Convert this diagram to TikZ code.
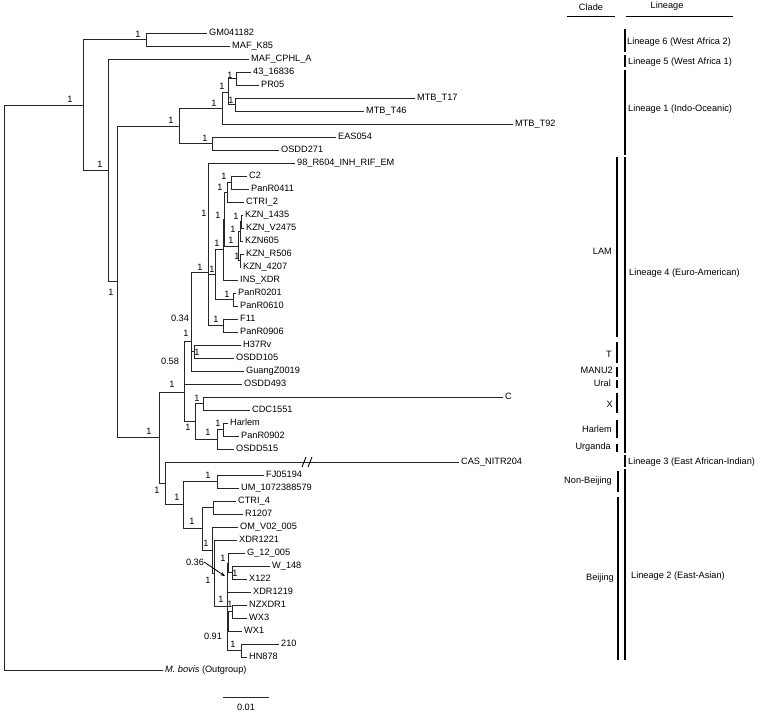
\documentclass[tikz,border=0pt]{standalone}
\usepackage{fontspec}
\setmainfont{Liberation Sans}
\usetikzlibrary{arrows.meta}
\newcommand\treefont{\fontsize{9.2}{11}\selectfont}
\begin{document}
\begin{tikzpicture}[x=1pt,y=-1pt,
 br/.style={line width=0.8pt, draw=black!85},
 leaf/.style={anchor=mid west, inner xsep=2pt, inner ysep=0pt, font=\treefont},
 bsup/.style={inner sep=0pt, font=\treefont},
 bar/.style={line width=1.4pt},
 lin/.style={anchor=mid west, inner sep=0pt, font=\treefont},
 cla/.style={anchor=mid east, inner sep=0pt, font=\treefont}]
\useasboundingbox (0,0) rectangle (760,712);

% ---------- internal nodes ----------
\coordinate (R) at (4,105.25);
\coordinate (A) at (83,105.25);
\coordinate (G) at (146,39.5);
\coordinate (B) at (108,170.5);
\coordinate (C) at (117,281.75);
\coordinate (L1) at (179,126);
\coordinate (M1) at (222,108);
\coordinate (M2) at (228,92);
\coordinate (P43) at (236,78.5);
\coordinate (T17n) at (235,104.5);
\coordinate (EA) at (212,143.5);
\coordinate (D) at (159,437.5);
\coordinate (D4) at (184,392);
\coordinate (Q) at (184,362.7);
\coordinate (P1) at (191,341.4);
\coordinate (P034) at (191,311.75);
\coordinate (Tn) at (194,351.5);
\coordinate (LAM2) at (208,272);
\coordinate (LAM1) at (208,219);
\coordinate (LAMc) at (215,274.75);
\coordinate (LAMa) at (223,249.5);
\coordinate (LAMb) at (224,219);
\coordinate (CT) at (227,192);
\coordinate (C2n) at (231,182.5);
\coordinate (KZ) at (238,246);
\coordinate (K3) at (240,231);
\coordinate (K1) at (241,221.5);
\coordinate (K2) at (240,260.5);
\coordinate (PR02) at (233,299.5);
\coordinate (F11n) at (223,325.5);
\coordinate (XH) at (195,421);
\coordinate (Xc) at (203,403.5);
\coordinate (Hc) at (217,439.25);
\coordinate (HP) at (223,429.5);
\coordinate (E) at (165,483);
\coordinate (L2) at (183,504.5);
\coordinate (NB) at (217,481.5);
\coordinate (Bj) at (202,528.75);
\coordinate (CR) at (213,507.5);
\coordinate (B2) at (212,550.25);
\coordinate (B3) at (214,573.5);
\coordinate (B4) at (227,606.5);
\coordinate (N036) at (227,577.5);
\coordinate (B5) at (228,563);
\coordinate (WX) at (232,572.5);
\coordinate (N2) at (227,635.6);
\coordinate (N091) at (228,621.25);
\coordinate (NW) at (232,611.5);
\coordinate (H210) at (241,650.5);

% ---------- leaves ----------
\node[leaf] (gm) at (207,33) {GM041182};
\node[leaf] (mafk) at (230,46) {MAF\_K85};
\node[leaf] (mafc) at (249,59) {MAF\_CPHL\_A};
\node[leaf] (l43) at (251,72) {43\_16836};
\node[leaf] (pr05) at (259,85) {PR05};
\node[leaf] (t17) at (415,98) {MTB\_T17};
\node[leaf] (t46) at (364,111) {MTB\_T46};
\node[leaf] (t92) at (513,124) {MTB\_T92};
\node[leaf] (eas) at (336,137) {EAS054};
\node[leaf] (o271) at (279,150) {OSDD271};
\node[leaf] (r604) at (295,163) {98\_R604\_INH\_RIF\_EM};
\node[leaf] (c2) at (247,176) {C2};
\node[leaf] (p0411) at (249,189) {PanR0411};
\node[leaf] (ctri2) at (244,202) {CTRI\_2};
\node[leaf] (k1435) at (243,215) {KZN\_1435};
\node[leaf] (kv) at (244,228) {KZN\_V2475};
\node[leaf] (k605) at (243,241) {KZN605};
\node[leaf] (kr) at (244,254) {KZN\_R506};
\node[leaf] (k4207) at (241,267) {KZN\_4207};
\node[leaf] (ins) at (238,280) {INS\_XDR};
\node[leaf] (p0201) at (236,293) {PanR0201};
\node[leaf] (p0610) at (238,306) {PanR0610};
\node[leaf] (f11) at (238,319) {F11};
\node[leaf] (p0906) at (238,332) {PanR0906};
\node[leaf] (h37) at (241,345) {H37Rv};
\node[leaf] (o105) at (234,358) {OSDD105};
\node[leaf] (guang) at (244,371) {GuangZ0019};
\node[leaf] (o493) at (242,384) {OSDD493};
\node[leaf] (cc) at (503,397) {C};
\node[leaf] (cdc) at (250,410) {CDC1551};
\node[leaf] (harlem) at (228,423) {Harlem};
\node[leaf] (p0902) at (239,436) {PanR0902};
\node[leaf] (o515) at (234,449) {OSDD515};
\node[leaf] (cas) at (459,462) {CAS\_NITR204};
\node[leaf] (fj) at (264,475) {FJ05194};
\node[leaf] (um) at (239,488) {UM\_1072388579};
\node[leaf] (ctri4) at (236,501) {CTRI\_4};
\node[leaf] (r1207) at (243,514) {R1207};
\node[leaf] (om) at (238,527) {OM\_V02\_005};
\node[leaf] (x1221) at (237,540) {XDR1221};
\node[leaf] (g12) at (245,553) {G\_12\_005};
\node[leaf] (w148) at (270,566) {W\_148};
\node[leaf] (x122) at (247,579) {X122};
\node[leaf] (x1219) at (251,592) {XDR1219};
\node[leaf] (nz) at (247,605) {NZXDR1};
\node[leaf] (wx3) at (247,618) {WX3};
\node[leaf] (wx1) at (242,631) {WX1};
\node[leaf] (s210) at (279,644) {210};
\node[leaf] (hn) at (247,657) {HN878};
\node[leaf] (mb) at (163,670) {\textit{M. bovis} (Outgroup)};

% ---------- branches ----------
\foreach \p/\c in {R/A, A/G, A/B, B/C, C/L1, C/D, L1/M1, L1/EA, M1/M2, M2/P43, M2/T17n,
  D/D4, D/E, D4/Q, D4/XH, Q/P1, P1/P034, P034/LAM2, P034/Tn, LAM2/LAM1, LAM2/F11n,
  LAM1/LAMc, LAMc/LAMa, LAMc/PR02, LAMa/LAMb, LAMb/CT, LAMb/KZ, CT/C2n, KZ/K3, KZ/K2, K3/K1,
  XH/Xc, XH/Hc, Hc/HP, E/L2, L2/NB, L2/Bj, Bj/CR, Bj/B2, B2/B3, B3/B4, B4/N036, B4/N2,
  N036/B5, B5/WX, N2/N091, N2/H210, N091/NW}
  \draw[br] (\p) |- (\c);
\foreach \p/\c in {R/mb, G/gm, G/mafk, B/mafc, M1/t92, P43/l43, P43/pr05, T17n/t17, T17n/t46,
  EA/eas, EA/o271, Q/o493, P1/guang, Tn/h37, Tn/o105, LAM1/r604, LAMa/ins, CT/ctri2,
  C2n/c2, C2n/p0411, K3/k605, K1/k1435, K1/kv, K2/kr, K2/k4207, PR02/p0201, PR02/p0610,
  F11n/f11, F11n/p0906, Xc/cc, Xc/cdc, Hc/o515, HP/harlem, HP/p0902, E/cas, NB/fj, NB/um,
  CR/ctri4, CR/r1207, B2/om, B3/x1221, N036/x1219, B5/g12, WX/w148, WX/x122, N091/wx1,
  NW/nz, NW/wx3, H210/s210, H210/hn}
  \draw[br] (\p) |- (\c.mid west);

% break mark on CAS_NITR204
\draw[line width=0.9pt] (302,467) -- (306,457) (308,467) -- (312,457);

% ---------- support values ----------
\foreach \t/\x/\y [count=\i] in {1/138/34, 1/70/99, 1/100/164, 1/111/292, 1/171/120, 1/214/103,
  1/205/138, 1/230/75, 1/222/86, 1/231/100, 1/149/431, 1/204/213, 1/224/176, 1/220/187,
  1/218/215, 1/236/216, 1/233/229, 1/231/240, 1/237/256, 1/217/243, 1/200/267, 1/212/269,
  1/227/294, 1/216/319, 0.34/180/318, 1/186/333, 1/197/352, 0.58/170/361, 1/172/384,
  1/197/398, 1/188/427, 1/218/423, 1/208/432, 1/157/490, 1/208/475, 1/177/497, 1/192/521,
  1/206/543, 1/208/580, 1/223/558, 1/235/573, 1/221/599, 1/230/604, 0.91/213/636, 1/233/644}
  \node[bsup] (sup\i) at (\x,\y) {\t};
\node[bsup] (s036) at (195,562) {0.36};
\draw[line width=0.8pt, -{Stealth[length=4.5pt,width=3.5pt]}, shorten >=2.5pt] (s036.east) -- (N036);

% ---------- scale bar ----------
\coordinate (sba) at (223,697);
\coordinate (sbb) at (269,697);
\draw[br] (sba) -- (sbb);
\node[bsup] (sbl) at (246,707) {0.01};

% ---------- right panel ----------
\node[bsup] (hclade) at (591,7) {Clade};
\node[bsup] (hlin) at (667,6) {Lineage};
\draw[line width=1pt] (567,16) -- (615,16);
\draw[line width=1pt] (626,16) -- (733,16);

\draw[bar] (625,29) -- (625,52);
\draw[bar] (625,55) -- (625,67);
\draw[bar] (625,70) -- (625,155);
\draw[bar] (625,157) -- (625,453);
\draw[bar] (625,455) -- (625,467);
\draw[bar] (625,469) -- (625,660);
\node[lin] (lg6) at (627,42) {Lineage 6 (West Africa 2)};
\node[lin] (lg5) at (628,62) {Lineage 5 (West Africa 1)};
\node[lin] (lg1) at (628,109) {Lineage 1 (Indo-Oceanic)};
\node[lin] (lg4) at (629,273) {Lineage 4 (Euro-American)};
\node[lin] (lg3) at (628,462) {Lineage 3 (East African-Indian)};
\node[lin] (lg2) at (631,576) {Lineage 2 (East-Asian)};

\draw[bar] (617,157) -- (617,337);
\draw[bar] (617,342) -- (617,363);
\draw[bar] (617,367) -- (617,377);
\draw[bar] (617,380) -- (617,388);
\draw[bar] (617,393) -- (617,413);
\draw[bar] (617,420) -- (617,438);
\draw[bar] (617,444) -- (617,452);
\draw[bar] (618,471) -- (618,492);
\draw[bar] (618,497) -- (618,660);
\node[cla] (cl1) at (612,252) {LAM};
\node[cla] (cl2) at (612,355) {T};
\node[cla] (cl3) at (613,371) {MANU2};
\node[cla] (cl4) at (611,384) {Ural};
\node[cla] (cl5) at (613,405) {X};
\node[cla] (cl6) at (612,430) {Harlem};
\node[cla] (cl7) at (611,447) {Urganda};
\node[cla] (cl8) at (612,481) {Non-Beijing};
\node[cla] (cl9) at (614,578) {Beijing};
\end{tikzpicture}
\end{document}
